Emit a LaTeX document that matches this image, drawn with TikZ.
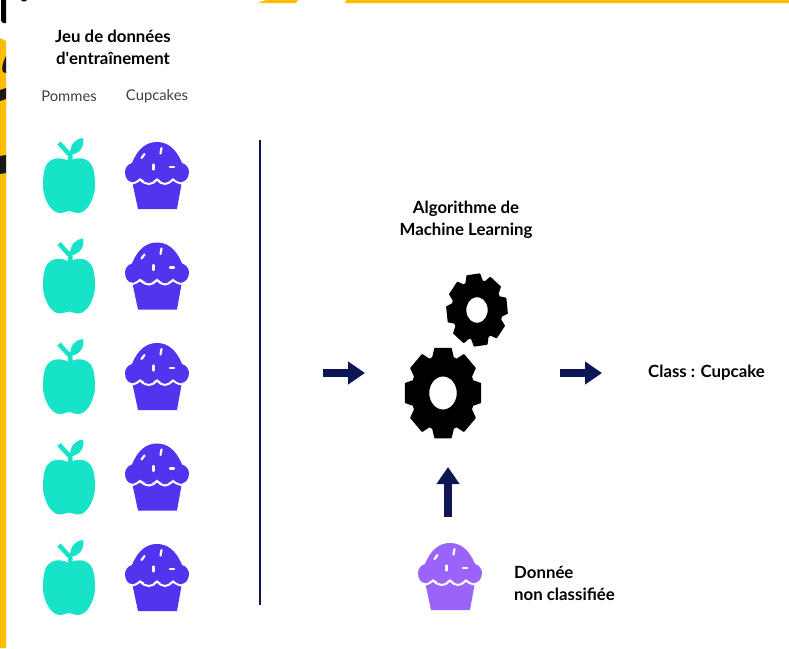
\documentclass[tikz,border=0pt]{standalone}
\usepackage{fontspec}
\setmainfont{Lato}
\usepackage{tikz}
\usetikzlibrary{arrows.meta,positioning}
\definecolor{applegreen}{HTML}{17E3C8}
\definecolor{cakeviolet}{HTML}{5233EE}
\definecolor{cakelight}{HTML}{9A64FA}
\definecolor{navy}{HTML}{0D1654}
\definecolor{bandyellow}{HTML}{FFBC00}
\newcommand{\gearpath}{(-19:0.82) \foreach \a in {0,45,...,315} {-- (\a-12:1) -- (\a+12:1) -- (\a+19:0.82) -- (\a+26:0.82)} -- cycle}
\tikzset{
pics/apple/.style={code={
\fill[applegreen] (0,-15) .. controls (8,-19) and (17,-19) .. (22,-12) .. controls (26,-6) and (26,5) .. (26,12) .. controls (25,22) and (19,37) .. (9,37) .. controls (5,37) and (3,35) .. (0,35) .. controls (-3,35) and (-5,37) .. (-9,37) .. controls (-19,37) and (-25,22) .. (-26,12) .. controls (-26,5) and (-26,-6) .. (-22,-12) .. controls (-17,-19) and (-8,-19) .. (0,-15) -- cycle;
\draw[applegreen,line width=4.5] (1.5,-15) -- (1,-25);
\draw[applegreen,line width=4.5] (-10,-33) -- (0,-22);
\fill[applegreen] (1,-21) .. controls (1,-32) and (6,-37) .. (14,-38) .. controls (16,-30) and (11,-22) .. (1,-21) -- cycle;
}},
pics/cupcake/.style={code={
\fill[#1] (-25,6) -- (25,6) -- (20,34) -- (-19,34) -- cycle;
\draw[white,line width=2] (-30,8) .. controls (-25,9.5) and (-21,8) .. (-17,4.5) .. controls (-14,7.5) and (-11,9) .. (-8,9) .. controls (-5,9) and (-2,7) .. (0,4.5) .. controls (2,7) and (5,9) .. (8,9) .. controls (10,9) and (13,7.5) .. (16,4.5) .. controls (20,8) and (25,9.5) .. (30,8);
\fill[#1] (-25,-12) .. controls (-19,-27) and (-10,-33) .. (0,-33) .. controls (10,-33) and (19,-27) .. (25,-12) .. controls (29,-11) and (32,-7) .. (32,-3) .. controls (32,3) and (28,7) .. (24,7) .. controls (21,7) and (18,5) .. (16,3) .. controls (13,6) and (10,7) .. (8,7) .. controls (5,7) and (2,5) .. (0,3) .. controls (-2,5) and (-5,7) .. (-8,7) .. controls (-11,7) and (-14,5) .. (-17,3) .. controls (-19,5) and (-22,7) .. (-25,7) .. controls (-29,7) and (-32,3) .. (-32,-3) .. controls (-32,-7) and (-29,-11) .. (-25,-12) -- cycle;
\draw[sprinkle] (-15.5,-17) -- (-12.5,-21);
\draw[sprinkle] (3.5,-21.5) -- (4.5,-27);
\draw[sprinkle] (-3.5,-5.5) -- (-3.5,-10.5);
\draw[sprinkle] (13,-8) -- (17,-8);
}},
sprinkle/.style={white,line width=2.2,line cap=round}
}
\begin{document}
\begin{tikzpicture}[x=1pt,y=-1pt,title/.style={font=\fontsize{16.8}{22}\selectfont\bfseries,align=center,text=black,inner sep=0pt},label/.style={font=\fontsize{14.8}{20}\selectfont,text=black!75,inner sep=0pt},flow/.style={navy,line width=7.5,-{Triangle[length=17pt,width=22pt]}},gear/.style={black,even odd rule,line join=round}]
\useasboundingbox (0,0) rectangle (789,648);

% yellow strips left over from the page behind
\fill[bandyellow] (0,38) -- (6,41) -- (6,648) -- (0,648) -- cycle;
\fill[bandyellow] (258,3) -- (266,0) -- (298,0) -- (296,3) -- cycle;
\fill[bandyellow] (345,3) -- (346,0) -- (789,0) -- (789,3) -- cycle;
\fill[black] (1,0) -- (6,0) -- (6,23) -- (3,23) .. controls (1,22) and (1,20) .. (1,18) -- cycle;
\fill[black] (21,0) -- (27,0) .. controls (26,2) and (22,2) .. (21,0) -- cycle;
\fill[black!90] (6,56) .. controls (3,62) and (1,68) .. (3,72) -- (6,73) -- cycle;
\fill[black!90] (0,90) -- (6,88) -- (6,99) -- (0,101) -- cycle;
\fill[black!90] (0,156) -- (6,155) -- (6,173) -- (0,174) -- cycle;

% titles
\node (dataset)[title] at (113,47) {Jeu de données\\d\textquotesingle entraînement};
\node (pommes)[label] at (69,96) {Pommes};
\node (cupcakes)[label] at (157,96) {Cupcakes};
\node (algo)[title] at (466,219.5) {Algorithme de\\Machine Learning};
\node (class)[title,anchor=west] at (648,373) {Class : Cupcake};
\node (donnee)[title,anchor=west,align=left] at (514,583) {Donnée\\non classifiée};

% training set
\foreach \i/\y in {1/176,2/276.5,3/377,4/477.5,5/578} {
\pic (apple\i) at (69,\y) {apple};
\pic (cake\i) at (157,\y-1) {cupcake=cakeviolet};
}
\pic (newcake) at (450,576) {cupcake=cakelight};

% gears
\filldraw[gear,line width=1.5,shift={(443,393)},xscale=0.84,scale=45.5] \gearpath (0,0) circle (0.38);
\filldraw[gear,line width=1.5,shift={(477,310)},xscale=0.84,scale=36,rotate=7] \gearpath (0,0) circle (0.38);

% divider and arrows
\coordinate (topline) at (260,140);
\coordinate (botline) at (260,605);
\coordinate (in1) at (323,373);
\coordinate (in2) at (365,373);
\coordinate (out1) at (560,373);
\coordinate (out2) at (602,373);
\coordinate (up1) at (448,517);
\coordinate (up2) at (448,467);
\draw [navy,line width=2] (topline) to (botline);
\draw [flow] (in1) to (in2);
\draw [flow] (out1) to (out2);
\draw [flow] (up1) to (up2);
\end{tikzpicture}
\end{document}
